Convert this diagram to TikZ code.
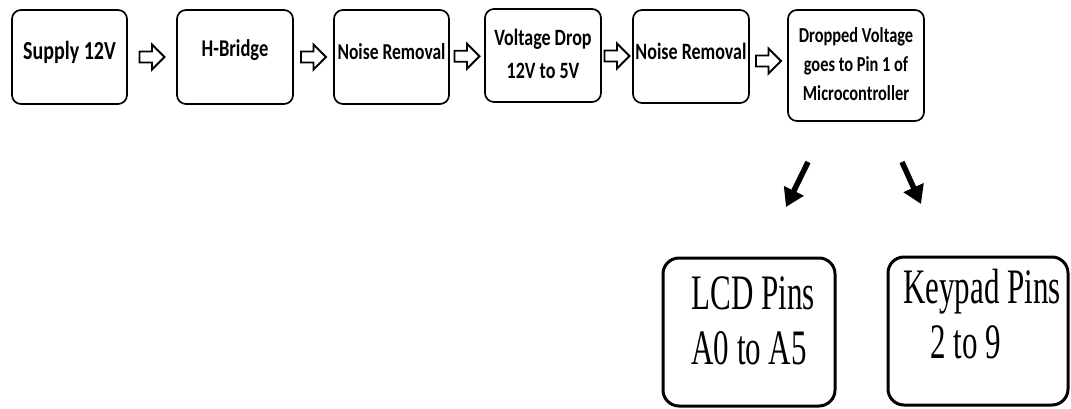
\documentclass[tikz,border=0pt]{standalone}
\usepackage{graphicx}
\usepackage{fontspec}
\newfontfamily\carlitofont{Carlito}
\newfontfamily\serifpinsfont{Liberation Serif}
\usetikzlibrary{arrows.meta,calc}

% stretched text, the scan is taller than wide
\newcommand{\tallcal}[3]{\fontsize{#1}{#2}\selectfont\scalebox{1}[1.3]{\begin{tabular}{@{}c@{}}#3\end{tabular}}}
\newcommand{\tallpin}[1]{\scalebox{1}[1.6]{\begin{tabular}{@{}l@{}}#1\end{tabular}}}
% lift the text but keep the size of the node
\newcommand{\lift}[2]{\raisebox{#1}[\height][\depth]{#2}}

\tikzset{
    stage/.style={draw, rounded corners=9pt, line width=1.7pt, inner sep=0pt,
        font=\carlitofont\bfseries},
    pinbox/.style={draw, rounded corners=16pt, line width=3pt, inner sep=0pt,
        minimum width=172pt, minimum height=148pt,
        font=\serifpinsfont\fontsize{31}{34}\selectfont},
    hollowarrow/.pic={
        \draw[line width=1.9pt, line join=miter]
            (-12.5,-5.5) -- (0,-5.5) -- (0,-12.5) -- (12.5,0) -- (0,12.5) -- (0,5.5) -- (-12.5,5.5) -- cycle;
    },
    pointer/.style={line width=5.5pt, -{Triangle[length=18pt,width=21pt]}}
}

\begin{document}
\begin{tikzpicture}[x=1pt, y=-1pt]
    \useasboundingbox (0,0) rectangle (1071,409);

    % Stages along the top
    \node[stage, minimum width=115pt, minimum height=94pt] (supply) at (69.5,57) {\lift{4pt}{\tallcal{20}{24}{Supply 12V}}};
    \node[stage, minimum width=116pt, minimum height=94pt] (hbridge) at (235,57) {\lift{7pt}{\tallcal{18.5}{24}{H-Bridge}}};
    \node[stage, minimum width=115pt, minimum height=94pt] (noiseA) at (391.5,57) {\lift{4pt}{\tallcal{17.5}{24}{Noise Removal}}};
    \node[stage, minimum width=116pt, minimum height=93pt] (drop) at (543,55.5) {\tallcal{18}{25}{Voltage Drop\\12V to 5V}};
    \node[stage, minimum width=116pt, minimum height=93pt] (noiseB) at (691,56.5) {\lift{3pt}{\tallcal{18}{24}{Noise Removal}}};
    \node[stage, minimum width=136pt, minimum height=111pt] (micro) at (856,65.5) {\tallcal{16.4}{22.5}{Dropped Voltage\\goes to Pin 1 of\\Microcontroller}};

    % Hollow arrows between stages
    \foreach \a/\b in {supply/hbridge, hbridge/noiseA, noiseA/drop, drop/noiseB, noiseB/micro} {
        \pic at ($(\a.east)!0.5!(\b.west)$) {hollowarrow};
    }

    % Pin boxes
    \node[pinbox] (lcd) at (749,332) {\lift{6pt}{\tallpin{\hspace{8pt}LCD Pins\\\hspace{8pt}A0 to A5}}};
    \node[pinbox, minimum width=180pt] (keypad) at (978,331) {\lift{11pt}{\tallpin{\hspace{8pt}Keypad Pins\\\hspace{35pt}2 to 9}}};

    % Solid arrows towards the pin boxes
    \coordinate (lcdfrom) at (808,162);
    \coordinate (lcdto) at (786,207);
    \coordinate (keyfrom) at (902,162);
    \coordinate (keyto) at (921,204);
    \draw[pointer] (lcdfrom) -- (lcdto);
    \draw[pointer] (keyfrom) -- (keyto);
\end{tikzpicture}
\end{document}
